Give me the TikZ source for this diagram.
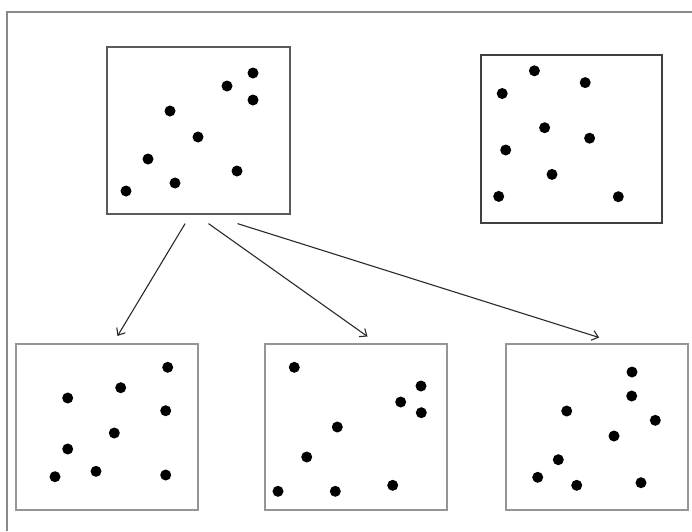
\documentclass[tikz,border=0pt]{standalone}
\usetikzlibrary{arrows.meta}
\definecolor{framegray}{HTML}{8A8A8A}
\definecolor{topgray}{HTML}{5A5A5A}
\definecolor{botgray}{HTML}{959595}
\definecolor{arrgray}{HTML}{2A2A2A}
\begin{document}
\begin{tikzpicture}[x=1pt,y=-1pt,
  panel/.style={draw=topgray,line width=1.6pt,fill=none,inner sep=0pt,anchor=north west},
  lowpanel/.style={panel,draw=botgray},
  pt/.style={fill=black},
  arr/.style={draw=arrgray,line width=1.1pt,-{Straight Barb[length=6pt,width=10pt]}}]
\useasboundingbox (0,0) rectangle (692,531);
% outer frame (right and bottom edges lie outside the picture)
\draw[framegray,line width=1.5pt] (7,531) -- (7,12) -- (692,12);
% panels
\node[panel,minimum width=183pt,minimum height=167pt] (b1) at (106,46) {};
\node[panel,minimum width=181pt,minimum height=168pt,draw=black!75] (b2) at (480,54) {};
\node[lowpanel,minimum width=182pt,minimum height=166pt] (c1) at (15,343) {};
\node[lowpanel,minimum width=182pt,minimum height=166pt] (c2) at (264,343) {};
\node[lowpanel,minimum width=182pt,minimum height=166pt] (c3) at (505,343) {};
% dots
\foreach \p in {(126,191),(148,159),(175,183),(170,111),(198,137),(227,86),(253,73),(253,100),(237,171)}
  \fill[pt] \p circle (5.5pt);
\foreach \p in {(534.4,70.8),(585.2,82.6),(502.2,93.5),(544.6,127.7),(589.6,138.2),(505.7,150),(552,174.4),(498.7,196.4),(618.3,196.7)}
  \fill[pt] \p circle (5.5pt);
\foreach \p in {(167.7,367.3),(120.7,387.7),(67.7,398),(165.7,410.7),(114.3,433),(67.7,449),(55,476.7),(96,471.3),(165.7,475)}
  \fill[pt] \p circle (5.5pt);
\foreach \p in {(294.3,367.3),(421,386),(400.7,402),(421.3,412.7),(337.3,427),(306.7,457),(278,491.3),(335.3,491.3),(392.7,485.3)}
  \fill[pt] \p circle (5.5pt);
\foreach \p in {(632,372),(631.7,396),(566.7,411),(655.3,420.3),(614,436),(558.3,459.7),(537.7,477.3),(576.7,485.3),(641,482.7)}
  \fill[pt] \p circle (5.5pt);
% arrows
\draw[arr] ([xshift=-13.2pt,yshift=-9pt]b1.south) -- ([xshift=10.7pt,yshift=7pt]c1.north);
\draw[arr] ([xshift=10.2pt,yshift=-9pt]b1.south) -- ([xshift=11.7pt,yshift=6.5pt]c2.north);
\draw[arr] ([xshift=39.2pt,yshift=-9pt]b1.south) -- ([xshift=2.3pt,yshift=5.5pt]c3.north);
\end{tikzpicture}
\end{document}
